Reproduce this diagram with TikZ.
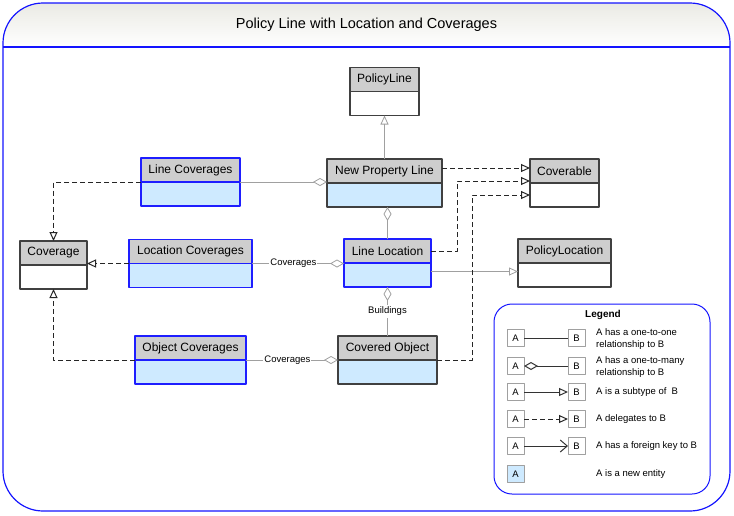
\documentclass[tikz,border=0pt]{standalone}
\usepackage{fontspec}
\setmainfont{Liberation Sans}
\usetikzlibrary{positioning,arrows.meta}
\definecolor{hdrgray}{RGB}{206,206,206}
\definecolor{newfill}{RGB}{206,234,255}
\definecolor{newblue}{RGB}{30,30,255}
\definecolor{frameblue}{RGB}{20,20,255}
\definecolor{linkgray}{RGB}{160,160,160}
\definecolor{titletop}{RGB}{234,234,228}
\tikzset{
  hdr/.style={draw=black!75, fill=hdrgray, line width=1.2pt, minimum height=24pt,
    inner sep=0pt, outer sep=0pt, font=\fontsize{12}{14}\selectfont},
  newhdr/.style={hdr, draw=newblue, line width=1.5pt},
  body/.style={draw=black!75, fill=white, line width=1.2pt, minimum height=24pt,
    inner sep=0pt, outer sep=0pt},
  newbody/.style={body, draw=newblue, fill=newfill, line width=1.5pt},
  linkline/.style={draw=linkgray, line width=0.8pt},
  delegline/.style={draw=black!85, dash pattern=on 5pt off 3pt, line width=1pt},
  subarrow/.style={-{Triangle[open, length=9pt, width=8pt]}},
  manyend/.style={-{Diamond[open, length=14pt, width=8pt]}},
  fkarrow/.style={-{Straight Barb[length=7pt, width=12pt]}},
  rolelabel/.style={fill=white, inner sep=1pt, font=\fontsize{9.5}{11}\selectfont},
  lgbox/.style={draw=linkgray, fill=white, minimum size=17pt, inner sep=0pt,
    outer sep=0pt, font=\fontsize{9.5}{11}\selectfont},
  lgtext/.style={anchor=west, align=left, inner sep=0pt, font=\fontsize{9.5}{12}\selectfont},
}
\begin{document}
\begin{tikzpicture}[x=1pt, y=-1pt, line join=round, >=stealth]
  \useasboundingbox (0,0) rectangle (734,515);
  % frame and title
  \begin{scope}
    \clip[rounded corners=40] (3,3) rectangle (730,511);
    \shade[top color=titletop, bottom color=white] (3,3) rectangle (730,47);
  \end{scope}
  \draw[frameblue, line width=1.2pt, rounded corners=40] (3,3) rectangle (730,511);
  \draw[frameblue, line width=1.2pt] (3,47) -- (730,47);
  \node[font=\fontsize{14.5}{17}\selectfont] (title) at (366.5,25) {Policy Line with Location and Coverages};

  % entities
  \node[hdr, minimum width=69pt] (pl) at (384.5,79.5) {PolicyLine};
  \node[body, minimum width=69pt, below=0pt of pl] (pl-b) {};
  \node[newhdr, minimum width=115pt, draw=black!75, line width=1.2pt] (npl) at (384.5,171) {New Property Line};
  \node[newbody, minimum width=115pt, draw=black!75, line width=1.2pt, below=0pt of npl] (npl-b) {};
  \node[hdr, minimum width=69pt] (cvb) at (564.5,171) {Coverable};
  \node[body, minimum width=69pt, below=0pt of cvb] (cvb-b) {};
  \node[newhdr, minimum width=99pt] (lcov) at (190.5,170) {Line Coverages};
  \node[newbody, minimum width=99pt, below=0pt of lcov] (lcov-b) {};
  \node[hdr, minimum width=67pt] (cov) at (53.5,253) {Coverage};
  \node[body, minimum width=67pt, below=0pt of cov] (cov-b) {};
  \node[newhdr, minimum width=123pt] (loccov) at (190.5,251.5) {Location Coverages};
  \node[newbody, minimum width=123pt, below=0pt of loccov] (loccov-b) {};
  \node[newhdr, minimum width=111pt] (objcov) at (190.5,348) {Object Coverages};
  \node[newbody, minimum width=111pt, below=0pt of objcov] (objcov-b) {};
  \node[newhdr, minimum width=87pt] (lloc) at (387.5,251) {Line Location};
  \node[newbody, minimum width=87pt, below=0pt of lloc] (lloc-b) {};
  \node[hdr, minimum width=93pt] (ploc) at (564.5,251) {PolicyLocation};
  \node[body, minimum width=93pt, below=0pt of ploc] (ploc-b) {};
  \node[hdr, minimum width=99pt, fill=hdrgray] (cobj) at (387.5,348) {Covered Object};
  \node[newbody, minimum width=99pt, draw=black!75, line width=1.2pt, below=0pt of cobj] (cobj-b) {};

  % relationships
  \draw[linkline, subarrow] (npl.north) -- (pl-b.south);
  \draw[linkline, manyend] (lcov.south east) -- (lcov.south east -| npl.west);
  \draw[linkline, manyend] (lloc.north) -- (lloc.north |- npl-b.south);
  \draw[linkline, manyend] (loccov.south east) -- (loccov.south east -| lloc.west)
    node[rolelabel, pos=0.45] {Coverages};
  \draw[linkline, manyend] (objcov.south east) -- (objcov.south east -| cobj.west)
    node[rolelabel, pos=0.45] {Coverages};
  \draw[linkline, manyend] (cobj.north) -- (cobj.north |- lloc-b.south)
    node[rolelabel, midway, inner sep=2pt] {Buildings};
  \draw[linkline, subarrow] ([yshift=3.5pt]lloc-b.east) -- ([yshift=3.5pt]lloc-b.east -| ploc.west);

  % delegation
  \coordinate (jog1) at (457,0);
  \coordinate (jog2) at (472,0);
  \draw[delegline, subarrow] (lcov.south west) -| (cov.north);
  \draw[delegline, subarrow] (loccov.south west) -- (loccov.south west -| cov.east);
  \draw[delegline, subarrow] (objcov.south west) -| (cov-b.south);
  \draw[delegline, subarrow] ([yshift=3pt]npl.east) -- ([yshift=3pt]npl.east -| cvb.west);
  \draw[delegline, subarrow] (lloc.east) -- (lloc.east -| jog1) |- ([yshift=2pt]cvb.south west);
  \draw[delegline, subarrow] (cobj.south east) -- (cobj.south east -| jog2) |- (cvb-b.west);

  % legend
  \draw[frameblue, line width=1pt, rounded corners=18] (494,304) rectangle (710,494);
  \node[font=\bfseries\fontsize{10}{12}\selectfont] (lgtitle) at (603,315) {Legend};
  \foreach \i/\y in {1/338,2/366,3/392,4/419,5/446} {
    \node[lgbox] (a\i) at (515.5,\y) {A};
    \node[lgbox] (b\i) at (576.5,\y) {B};
  }
  \node[lgbox, fill=newfill] (a6) at (515.5,474) {A};
  \draw[black!80, line width=1pt] (a1) -- (b1);
  \draw[black!80, line width=1pt, manyend] (b2) -- (a2);
  \draw[black!80, line width=1pt, subarrow] (a3) -- (b3);
  \draw[black!80, delegline, subarrow] (a4) -- (b4);
  \draw[black!80, line width=1pt, fkarrow] (a5) -- (b5);
  \node[lgtext] (t1) at (596,339) {A has a one-to-one\\relationship to B};
  \node[lgtext] (t2) at (596,367) {A has a one-to-many\\relationship to B};
  \node[lgtext] (t3) at (596,392) {A is a subtype of~ B};
  \node[lgtext] (t4) at (596,419) {A delegates to B};
  \node[lgtext] (t5) at (596,446) {A has a foreign key to B};
  \node[lgtext] (t6) at (596,474) {A is a new entity};
\end{tikzpicture}
\end{document}
